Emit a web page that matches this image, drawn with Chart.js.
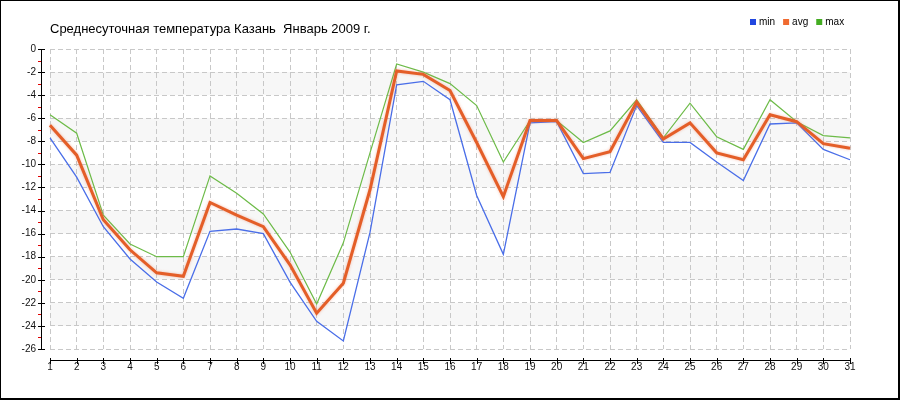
<!DOCTYPE html>
<html>
<head>
<meta charset="utf-8">
<script src="https://cdn.jsdelivr.net/npm/chart.js@4.4.0/dist/chart.umd.min.js"></script>
<style>
  body { margin: 0; background: #fff; }
  #wrap { width: 900px; height: 400px; }
</style>
</head>
<body>
<div id="wrap"><canvas id="tempChart" width="900" height="400"></canvas></div>
<script>
// days of January 2009
const days = ['1','2','3','4','5','6','7','8','9','10','11','12','13','14','15','16',
              '17','18','19','20','21','22','23','24','25','26','27','28','29','30','31'];

const minTemp = [-7.7, -11.1, -15.4, -18.2, -20.2, -21.6, -15.8, -15.6, -16.0, -20.2, -23.6,
                 -25.3, -15.9, -3.1, -2.8, -4.4, -12.7, -17.8, -6.4, -6.3, -10.8, -10.7,
                 -4.9, -8.1, -8.1, -9.8, -11.4, -6.5, -6.4, -8.7, -9.6];
const avgTemp = [-6.6, -9.2, -14.8, -17.4, -19.4, -19.7, -13.3, -14.4, -15.4, -18.7, -22.9,
                 -20.3, -12.2, -1.9, -2.2, -3.6, -8.1, -12.8, -6.2, -6.2, -9.5, -8.9,
                 -4.6, -7.8, -6.4, -9.0, -9.6, -5.7, -6.3, -8.2, -8.6];
const maxTemp = [-5.7, -7.3, -14.4, -16.9, -18.0, -18.0, -11.0, -12.5, -14.3, -17.6, -22.1,
                 -16.8, -9.0, -1.3, -2.0, -3.0, -4.9, -9.8, -6.2, -6.2, -8.1, -7.1,
                 -4.4, -7.7, -4.7, -7.6, -8.7, -4.4, -6.3, -7.5, -7.7];

const seriesNames = ['min', 'avg', 'max'];
const titleText = 'Среднесуточная температура Казань  Январь 2009 г.';

const tickFont = { family: 'Liberation Sans, Arial, sans-serif', size: 10 };

// bands, own axes, title, legend and frame
const decor = {
  id: 'decor',
  beforeDraw(chart) {
    const ctx = chart.ctx, y = chart.scales.y, a = chart.chartArea;
    ctx.save();
    ctx.fillStyle = '#f7f7f7';
    for (let v = -2; v > -26; v -= 4) {
      const top = y.getPixelForValue(v), bot = y.getPixelForValue(v - 2);
      ctx.fillRect(a.left, top, a.right - a.left, bot - top);
    }
    ctx.restore();
  },
  afterDraw(chart) {
    const ctx = chart.ctx, x = chart.scales.x, y = chart.scales.y, a = chart.chartArea;
    ctx.save();
    // y axis
    const yTop = Math.round(y.getPixelForValue(0));
    const yBot = Math.round(y.getPixelForValue(-26));
    ctx.fillStyle = '#000';
    ctx.fillRect(41, yTop, 1, yBot - yTop + 1);
    ctx.lineWidth = 1;
    for (let v = 0; v >= -26; v--) {
      const py = Math.round(y.getPixelForValue(v));
      if (v % 2 === 0) {
        ctx.fillStyle = '#000';
        ctx.fillRect(38, py, 7, 1);
      } else {
        ctx.fillStyle = '#e00000';
        ctx.fillRect(38, py, 3, 1);
      }
    }
    // x axis
    ctx.fillStyle = '#000';
    ctx.fillRect(a.left, 360, a.right - a.left + 1, 1);
    days.forEach((d, i) => {
      const px = Math.round(x.getPixelForValue(i));
      ctx.fillRect(px, 358, 1, 6);
    });
    // title
    ctx.fillStyle = '#000';
    ctx.font = '13px Liberation Sans, Arial, sans-serif';
    ctx.textBaseline = 'middle';
    ctx.textAlign = 'left';
    ctx.fillText(titleText, 50, 29);
    // legend
    ctx.font = '10px Liberation Sans, Arial, sans-serif';
    let lx = 750;
    chart.data.datasets.forEach(ds => {
      ctx.fillStyle = ds.legendColor;
      ctx.fillRect(lx, 19, 6, 6);
      ctx.fillStyle = '#000';
      ctx.fillText(ds.label, lx + 9, 22);
      lx += 9 + ctx.measureText(ds.label).width + 8;
    });
    // frame
    ctx.strokeStyle = '#000';
    ctx.lineWidth = 1;
    ctx.strokeRect(0.5, 0.5, 898, 398);
    ctx.lineWidth = 2;
    ctx.beginPath();
    ctx.moveTo(899, 0); ctx.lineTo(899, 400);
    ctx.moveTo(0, 399); ctx.lineTo(900, 399);
    ctx.stroke();
    ctx.restore();
  },
  beforeDatasetDraw(chart, args) {
    if (args.index === 1) {
      chart.ctx.save();
      chart.ctx.shadowColor = 'rgba(235, 110, 70, 0.45)';
      chart.ctx.shadowBlur = 3;
    }
  },
  afterDatasetDraw(chart, args) {
    if (args.index === 1) chart.ctx.restore();
  }
};

const ctx = document.getElementById('tempChart').getContext('2d');
const tempChart = new Chart(ctx, {
  type: 'line',
  data: {
    labels: days,
    datasets: [
      { label: seriesNames[0], data: minTemp, borderColor: '#4a6ee8', legendColor: '#2147e0',
        borderWidth: 1.3, order: 2 },
      { label: seriesNames[1], data: avgTemp, borderColor: '#e45e28', legendColor: '#f06a30',
        borderWidth: 3, order: 0 },
      { label: seriesNames[2], data: maxTemp, borderColor: '#6dbb48', legendColor: '#44ad22',
        borderWidth: 1.2, order: 1 }
    ]
  },
  options: {
    responsive: false,
    animation: false,
    layout: { padding: { top: 49, right: 50, left: 0, bottom: 0 } },
    elements: { point: { radius: 0 }, line: { tension: 0 } },
    plugins: { legend: { display: false }, title: { display: false }, tooltip: { enabled: false } },
    scales: {
      x: {
        type: 'category',
        offset: false,
        afterFit(scale) { scale.height = 51; },
        border: { display: false, dash: [5, 3] },
        grid: { color: '#c8c8c8', drawTicks: false, lineWidth: 1 },
        ticks: { color: '#111', font: tickFont, padding: 12, maxRotation: 0, autoSkip: false }
      },
      y: {
        min: -26,
        max: 0,
        afterFit(scale) { scale.width = 50; },
        border: { display: false, dash: [5, 3] },
        grid: { color: '#c8c8c8', drawTicks: false, lineWidth: 1 },
        ticks: { stepSize: 2, color: '#111', font: tickFont, padding: 14 }
      }
    }
  },
  plugins: [decor]
});
</script>
</body>
</html>
